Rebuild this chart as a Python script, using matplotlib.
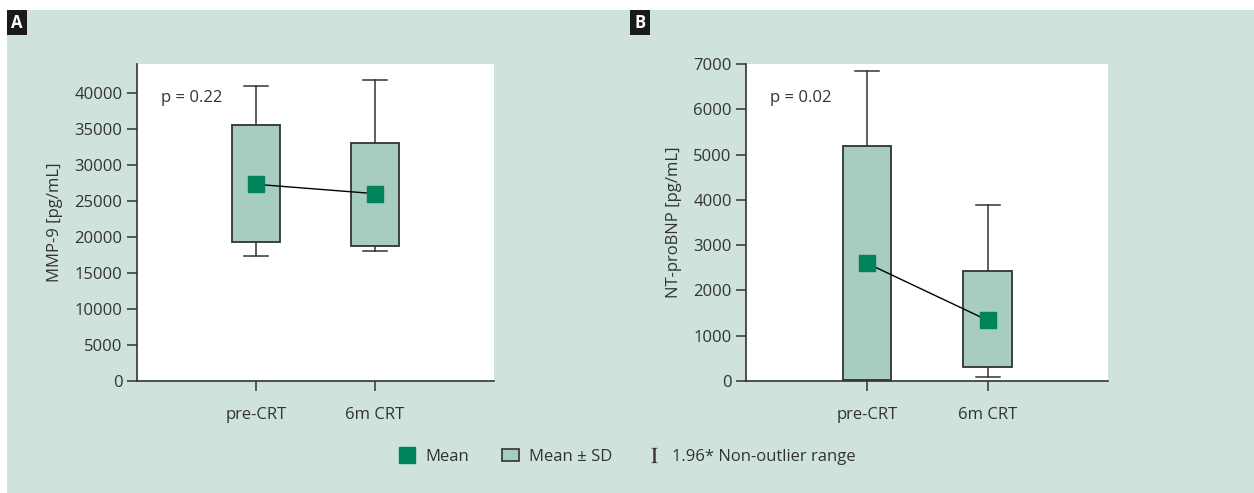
import matplotlib.pyplot as plt
from matplotlib.patches import Rectangle, Patch
from matplotlib.lines import Line2D

plt.rcParams['font.family'] = ['Open Sans', 'DejaVu Sans']
plt.rcParams['mathtext.fontset'] = 'stix'

# Data
groups = ["pre-CRT", "6m CRT"]

mmp_mean = [27300, 26000]
mmp_sd_low = [19300, 18800]
mmp_sd_high = [35500, 33100]
mmp_range_low = [17400, 18100]
mmp_range_high = [41000, 41800]

bnp_mean = [2600, 1340]
bnp_sd_low = [30, 300]
bnp_sd_high = [5180, 2420]
bnp_range_low = [-1700, 80]
bnp_range_high = [6850, 3880]

bg = "#cfe3db"
box_fill = "#a6cdbf"
mean_col = "#00825a"
dark = "#333333"

fig = plt.figure(figsize=(12.54, 4.93), dpi=100)
fig.patch.set_facecolor("white")
fig.patches.append(Rectangle((7 / 1254, 0), 1 - 7 / 1254, 1 - 10 / 493,
                             transform=fig.transFigure, facecolor=bg,
                             edgecolor="none", zorder=-10))


def draw_panel(ax, mean, sd_lo, sd_hi, r_lo, r_hi, ylim, ticks, ylabel, ptext):
    pos = [1, 2]
    ax.set_facecolor("white")
    for i, x in enumerate(pos):
        # whiskers
        ax.plot([x, x], [sd_hi[i], r_hi[i]], color=dark, lw=1.1, zorder=2)
        ax.plot([x, x], [r_lo[i], sd_lo[i]], color=dark, lw=1.1, zorder=2)
        ax.plot([x - 0.1, x + 0.1], [r_hi[i], r_hi[i]], color=dark, lw=1.1, zorder=2)
        ax.plot([x - 0.1, x + 0.1], [r_lo[i], r_lo[i]], color=dark, lw=1.1, zorder=2)
        # box
        ax.add_patch(Rectangle((x - 0.2, sd_lo[i]), 0.4, sd_hi[i] - sd_lo[i],
                               facecolor=box_fill, edgecolor=dark, lw=1.3, zorder=3))
    ax.plot(pos, mean, color="black", lw=1.0, zorder=4)
    ax.plot(pos, mean, ls="none", marker="s", ms=11, color=mean_col, zorder=5)
    ax.set_xlim(0, 3)
    ax.set_ylim(*ylim)
    ax.set_yticks(ticks)
    ax.set_xticks(pos)
    ax.set_xticklabels(groups)
    for s in ["top", "right"]:
        ax.spines[s].set_visible(False)
    for s in ["left", "bottom"]:
        ax.spines[s].set_color(dark)
        ax.spines[s].set_linewidth(1.2)
    ax.tick_params(colors=dark, labelsize=12, length=7, width=1.1, labelcolor="#333333")
    ax.tick_params(axis="x", pad=12)
    ax.set_ylabel(ylabel, fontsize=12, color=dark, labelpad=8)
    ax.text(0.066, 0.893, ptext, transform=ax.transAxes, fontsize=12,
            color=dark, va="center", ha="left")


axA = fig.add_axes([0.1093, 0.2272, 0.2847, 0.643])
draw_panel(axA, mmp_mean, mmp_sd_low, mmp_sd_high, mmp_range_low, mmp_range_high,
           (0, 44000), range(0, 40001, 5000), "MMP-9 [pg/mL]", "p = 0.22")

axB = fig.add_axes([0.5951, 0.2272, 0.2887, 0.643])
draw_panel(axB, bnp_mean, bnp_sd_low, bnp_sd_high, bnp_range_low, bnp_range_high,
           (0, 7000), range(0, 7001, 1000), "NT-proBNP [pg/mL]", "p = 0.02")

# Panel letters
for lx, letter in [(7, "A"), (630, "B")]:
    fig.patches.append(Rectangle((lx / 1254, 1 - 35 / 493), 20 / 1254, 25 / 493,
                                 transform=fig.transFigure, facecolor="#1a1a1a",
                                 edgecolor="none", zorder=1))
    fig.text((lx + 10) / 1254, 1 - 22.5 / 493, letter, color="white",
             fontsize=12, fontweight="bold", ha="center", va="center")

# Legend
handles = [
    Line2D([], [], ls="none", marker="s", ms=11, color=mean_col),
    Patch(facecolor=box_fill, edgecolor=dark, lw=1.2),
    Line2D([], [], ls="none", marker=r"$\mathrm{I}$", ms=11, mew=0, color=dark),
]
labels = ["Mean", "Mean \u00b1 SD", "1.96* Non-outlier range"]
fig.legend(handles, labels, loc="center", bbox_to_anchor=(0.5, 1 - 457 / 493),
           ncol=3, frameon=False, fontsize=12, handlelength=1.0,
           handletextpad=0.6, columnspacing=2.0, labelcolor=dark)

fig.savefig("out.png", dpi=100, facecolor=fig.get_facecolor())
